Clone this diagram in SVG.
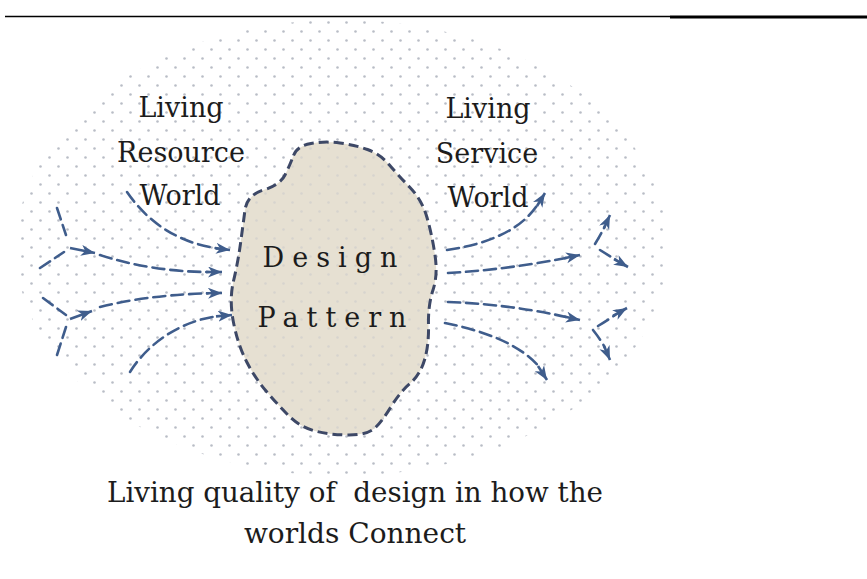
<svg xmlns="http://www.w3.org/2000/svg" width="867" height="579" viewBox="0 0 867 579">
<style>
.lbl{font-family:"DejaVu Serif","Liberation Serif",serif;font-size:27px;fill:#1c1c1c;text-anchor:middle}
.core{font-family:"DejaVu Serif","Liberation Serif",serif;font-size:27px;fill:#1c1c1c;text-anchor:middle;letter-spacing:8px}
.cap{font-family:"DejaVu Serif","Liberation Serif",serif;font-size:28px;fill:#1c1c1c;text-anchor:middle;white-space:pre}
.flow{fill:none;stroke:#3f5d8c;stroke-width:2.6;stroke-dasharray:12 6;stroke-linecap:round}
.flowh{fill:none;stroke:#3f5d8c;stroke-width:2.6;marker-end:url(#ah)}
</style>
<defs>
<pattern id="dots" width="18" height="18" patternUnits="userSpaceOnUse">
<circle cx="4.5" cy="4.5" r="1.3" fill="#b9bdc6"/>
<circle cx="13.5" cy="13.5" r="1.3" fill="#b9bdc6"/>
</pattern>
<marker id="ah" markerWidth="16" markerHeight="12" refX="14" refY="5.5" orient="auto" markerUnits="userSpaceOnUse">
<path d="M0,0 L14,5.5 L0,11 L4,5.5 Z" fill="#3f5d8c"/>
</marker>
<path id="blob" d="M293.5,155.5 Q297,146 311,143.5 Q325,141 340,143 Q355,145 367.5,149.5 Q380,154 389,164.5 Q398,175 410,187.5 Q422,200 427,217.5 Q432,235 435,255 Q438,275 433,290 Q428,305 428.5,325 Q429,345 424.5,360 Q420,375 410,383.5 Q400,392 391.5,406 Q383,420 375.5,427.5 Q368,435 349,435 Q330,435 315,431 Q300,427 289,416 Q278,405 266.5,391.5 Q255,378 246.5,361.5 Q238,345 233.5,322.5 Q229,300 233.5,281 Q238,262 240.5,243.5 Q243,225 245,210 Q247,195 263.5,190 Q280,185 285,175 Q290,165 293.5,155.5 Z"/>
</defs>
<rect width="867" height="579" fill="#ffffff"/>
<g id="rule">
<line x1="5" y1="16.5" x2="670" y2="16.5" stroke="#000" stroke-width="1.6"/>
<line x1="670" y1="17" x2="867" y2="17" stroke="#000" stroke-width="3"/>
</g>
<g id="field">
<ellipse cx="342" cy="248" rx="326" ry="228" fill="url(#dots)"/>
</g>
<g id="design-pattern">
<use href="#blob" fill="#e6e0d2"/>
<use href="#blob" fill="url(#dots)" opacity="0.35"/>
<use href="#blob" fill="none" stroke="#3d4866" stroke-width="3" stroke-dasharray="10 5"/>
<text class="core" x="334" y="267">Design</text>
<text class="core" x="336" y="327">Pattern</text>
</g>
<g id="resource-world">
<text class="lbl" x="181" y="117">Living</text>
<text class="lbl" x="181" y="162">Resource</text>
<text class="lbl" x="180" y="205">World</text>
</g>
<g id="service-world">
<text class="lbl" x="488" y="118">Living</text>
<text class="lbl" x="487" y="163">Service</text>
<text class="lbl" x="488" y="207">World</text>
</g>
<g id="connectors">
<path class="flow" d="M127,192 Q160,240 218,248.5"/>
<path class="flowh" d="M216,248.3 L230,250"/>
<path class="flow" d="M57,208 L66,235"/>
<path class="flow" d="M40,268 L64,252"/>
<path class="flowh" d="M70,248 L95,253"/>
<path class="flow" d="M100,255 C130,265 170,272 208,272"/>
<path class="flowh" d="M206,272 L222,272"/>
<path class="flow" d="M43,298 L66,315"/>
<path class="flow" d="M57,355 L66,327"/>
<path class="flowh" d="M70,319 L92,311"/>
<path class="flow" d="M100,307 C140,297 180,294 208,293.3"/>
<path class="flowh" d="M206,293.3 L222,293"/>
<path class="flow" d="M130,372 C150,340 185,320 218,316.2"/>
<path class="flowh" d="M216,316.4 L232,315"/>
<path class="flow" d="M447,250 Q515,240 538,204"/>
<path class="flowh" d="M537,206 L545,193"/>
<path class="flow" d="M448,273 C500,270 540,263 566,258"/>
<path class="flowh" d="M564,258.3 L580,255"/>
<path class="flow" d="M595,244 Q601,234 605,226"/>
<path class="flowh" d="M604,228 L610,215"/>
<path class="flow" d="M600,250 L616,260"/>
<path class="flowh" d="M614,259 L628,267"/>
<path class="flow" d="M448,302 C500,304 540,311 566,317"/>
<path class="flowh" d="M564,316.5 L580,320"/>
<path class="flow" d="M598,326 Q608,320 615,315"/>
<path class="flowh" d="M613,316 L627,308"/>
<path class="flow" d="M593,330 Q601,340 605,348"/>
<path class="flowh" d="M604,346 L610,360"/>
<path class="flow" d="M445,323 C480,330 520,343 540,368"/>
<path class="flowh" d="M538,366 L547,380"/>
</g>
<g id="caption">
<text class="cap" x="355" y="502" textLength="496" lengthAdjust="spacingAndGlyphs">Living quality of  design in how the</text>
<text class="cap" x="355" y="543">worlds Connect</text>
</g>
</svg>
